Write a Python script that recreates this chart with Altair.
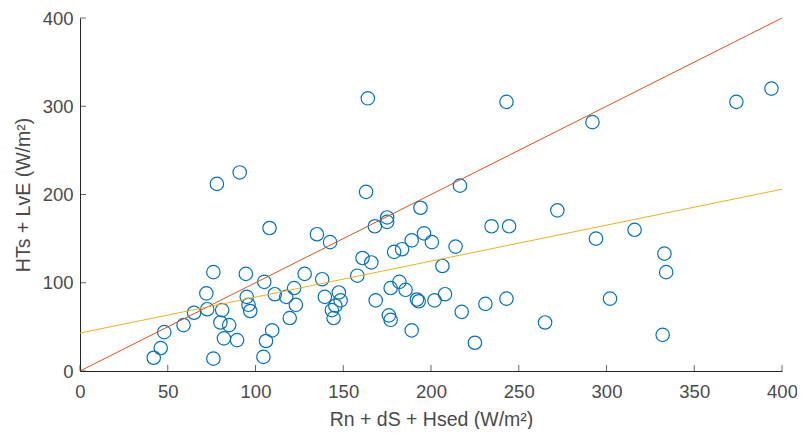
import altair as alt
import pandas as pd

# Scatter data (Rn + dS + Hsed, HTs + LvE)
x_vals = [42, 46, 48, 59, 65, 72, 72.5, 76, 76, 78, 81, 80, 85, 82, 89.5, 91, 94.5, 95, 96, 97,
          105, 104.5, 106, 109.5, 108, 111, 117.5, 119.5, 123, 122, 128, 135, 138, 142.5, 139.5,
          143.5, 144.5, 145.5, 147.5, 148.5, 158, 161, 166, 163, 164, 168, 168.5, 175, 175, 177,
          179, 183.5, 176, 177, 182, 185.5, 189, 189, 192, 193, 194, 196, 200.5, 202, 206.5, 208,
          214, 216.5, 217.5, 225, 231, 234.5, 243, 244.5, 243, 265, 272, 292, 294, 302, 316, 332,
          333, 334, 374, 394]
y_vals = [15, 26, 44, 52, 66, 88, 70, 112, 14, 212, 69, 55, 52, 37, 35, 225, 110, 84, 75, 68,
          101, 16, 34, 46, 162, 87, 84, 60, 75, 94, 110, 155, 104, 146, 84,
          69, 60, 74, 89, 80, 108, 128, 123, 203, 309, 164, 80, 174, 169, 94,
          135, 138, 63, 58, 101, 92, 148, 46, 81, 79, 185, 156, 146, 80, 119, 87,
          141, 210, 67, 32, 76, 164, 305, 164, 82, 55, 182, 282, 150, 82, 160, 41,
          133, 112, 305, 320]

# 1:1 line and regression line end points
one_x = [0, 400]
one_y = [0, 400]
fit_x = [0, 400]
fit_y = [43, 206]

# tick values
x_ticks = [0, 50, 100, 150, 200, 250, 300, 350, 400]
y_ticks = [0, 100, 200, 300, 400]

W, H = 702, 353
FONT = "Liberation Sans"
AX = "#262626"
TXT = "#4a4a4a"

pts = pd.DataFrame({"x": x_vals, "y": y_vals})
one = pd.DataFrame({"x": one_x, "y": one_y})
fit = pd.DataFrame({"x": fit_x, "y": fit_y})
xt = pd.DataFrame({"x": x_ticks})
yt = pd.DataFrame({"y": y_ticks})

xs = alt.Scale(domain=[0, 400], nice=False, zero=False)
ys = alt.Scale(domain=[0, 400], nice=False, zero=False)

x_axis = alt.Axis(values=x_ticks, ticks=False, tickSize=0, grid=False, domainColor=AX, domainWidth=1,
                  labelFont=FONT, labelFontSize=18.5, labelColor=TXT, labelPadding=11, labelFlush=False,
                  title="Rn + dS + Hsed (W/m²)", titleFont=FONT, titleFontSize=19.5,
                  titleFontWeight="normal", titleColor=TXT, titlePadding=10)
y_axis = alt.Axis(values=y_ticks, ticks=False, tickSize=0, grid=False, domainColor=AX, domainWidth=1,
                  labelFont=FONT, labelFontSize=18.5, labelColor=TXT, labelPadding=7, labelFlush=False,
                  title="HTs + LvE (W/m²)", titleFont=FONT, titleFontSize=19.5,
                  titleFontWeight="normal", titleColor=TXT, titlePadding=9)

X = alt.X("x:Q", scale=xs, axis=x_axis)
Y = alt.Y("y:Q", scale=ys, axis=y_axis)

points = alt.Chart(pts).mark_point(shape="circle", filled=False, size=180, strokeWidth=1.2,
                                   color="#0072BD", opacity=1).encode(x=X, y=Y)

line_one = alt.Chart(one).mark_line(color="#D95319", strokeWidth=1).encode(x=X, y=Y)
line_fit = alt.Chart(fit).mark_line(color="#EDB120", strokeWidth=1).encode(x=X, y=Y)

xtick_marks = alt.Chart(xt).mark_tick(color=AX, thickness=1, size=6).encode(
    x=X,
    y=alt.value(H - 3),
)
ytick_marks = alt.Chart(yt).mark_tick(color=AX, thickness=1, size=6).encode(
    y=Y,
    x=alt.value(3),
)

chart = alt.layer(points, line_one, line_fit, xtick_marks, ytick_marks).properties(
    width=W,
    height=H,
    autosize=alt.AutoSizeParams(type="none"),
    padding={"left": 72, "top": 10, "right": 15, "bottom": 58},
    background="white",
).configure_view(stroke=None)

chart.save("out.html", embed_options={"renderer": "svg", "actions": False})
